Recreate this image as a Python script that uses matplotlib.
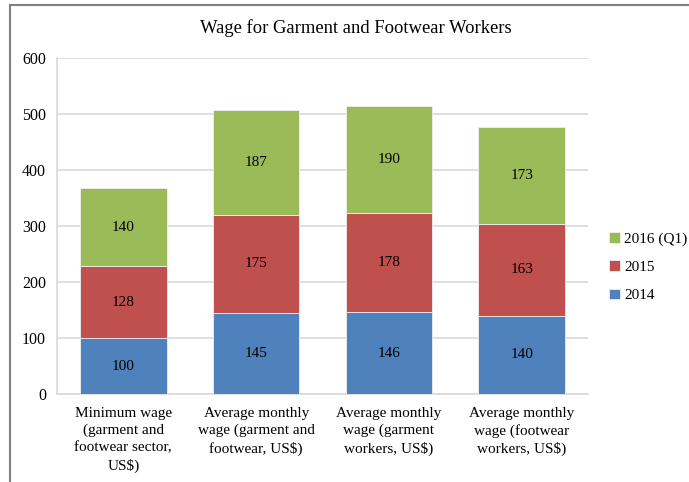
import numpy as np
import matplotlib.pyplot as plt
from matplotlib.lines import Line2D

plt.rcParams['font.family'] = ['Liberation Serif', 'DejaVu Serif']

categories = ['Minimum wage\n(garment and\nfootwear sector,\nUS$)',
              'Average monthly\nwage (garment and\nfootwear, US$)',
              'Average monthly\nwage (garment\nworkers, US$)',
              'Average monthly\nwage (footwear\nworkers, US$)']
y2014 = [100, 145, 146, 140]
y2015 = [128, 175, 178, 163]
y2016 = [140, 187, 190, 173]
series_names = ['2014', '2015', '2016 (Q1)']
colors = ['#4F81BD', '#C0504D', '#9BBB59']

fig = plt.figure(figsize=(6.89, 4.82), dpi=100)
ax = fig.add_axes([57/689, 1 - 394/482, 531/689, 336/482])

x = np.arange(len(categories))
width = 0.65
bottom = np.zeros(len(categories))
bars = []
for vals, name, c in zip([y2014, y2015, y2016], series_names, colors):
    b = ax.bar(x, vals, width, bottom=bottom, color=c, label=name,
               edgecolor='#f0f0f0', linewidth=0.6, zorder=3)
    for xi, v, bt in zip(x, vals, bottom):
        ax.text(xi, bt + v / 2, str(v), ha='center', va='center', fontsize=11, zorder=4)
    bottom = bottom + np.array(vals)
    bars.append(b)

ax.set_xlim(-0.5, len(categories) - 0.5)
ax.set_ylim(0, 600)
ax.set_yticks(range(0, 601, 100))
ax.set_xticks(x)
ax.set_xticklabels(categories, fontsize=11, linespacing=1.4)
ax.tick_params(axis='y', length=0, labelsize=11.5, pad=8)
ax.tick_params(axis='x', length=0, pad=9)
ax.yaxis.grid(True, color='#d9d9d9', linewidth=1.2, zorder=0)
ax.set_axisbelow(True)
for s in ['top', 'right']:
    ax.spines[s].set_visible(False)
for s in ['left', 'bottom']:
    ax.spines[s].set_color('#d9d9d9')
    ax.spines[s].set_linewidth(1.2)

handles = [bars[2], bars[1], bars[0]]
labels = [series_names[2], series_names[1], series_names[0]]
fig.legend(handles, labels, loc='upper left', bbox_to_anchor=(603/689, 1 - 226/482),
           frameon=False, fontsize=11, handlelength=0.7, handleheight=0.7,
           handletextpad=0.3, labelspacing=0.95, borderaxespad=0)

fig.text(356/689, 1 - 28/482, 'Wage for Garment and Footwear Workers',
         ha='center', va='center', fontsize=13.4)

# chart frame lines (left and top)
fig.add_artist(Line2D([10/689, 10/689], [0, 1 - 5/482], color='#808080', linewidth=1.5,
                      transform=fig.transFigure))
fig.add_artist(Line2D([10/689, 1], [1 - 5/482, 1 - 5/482], color='#808080', linewidth=1.5,
                      transform=fig.transFigure))

fig.savefig('out.png', dpi=100)
